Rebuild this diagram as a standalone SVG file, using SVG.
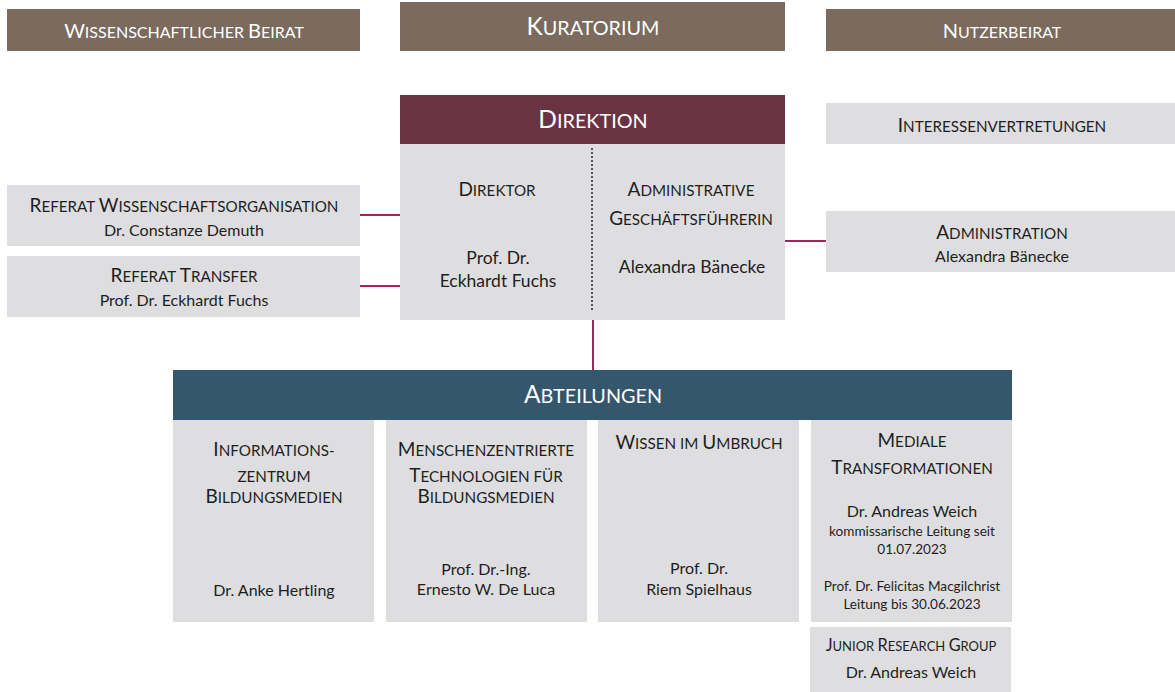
<svg xmlns="http://www.w3.org/2000/svg" width="1175" height="692" viewBox="0 0 1175 692">
<style>
text{font-family:Lato,"Open Sans","Liberation Sans",sans-serif;text-anchor:middle;fill:#1e1e1e;font-size:16px}
.w{fill:#ffffff}
.b{font-size:19px}
.s{font-size:15.2px;text-transform:uppercase}
.hb{font-size:20px}
.hs{font-size:16px;text-transform:uppercase}
.B{font-size:24.5px}
.S{font-size:19.8px;text-transform:uppercase}
.jb{font-size:16.3px}
.js{font-size:13px;text-transform:uppercase}
.sm{font-size:13.6px}
.lg{font-size:17.5px}
.brown{fill:#7b6a5e}
.grey{fill:#dedee0}
.con{stroke:#a3245a;stroke-width:2;fill:none}
</style>
<g id="connectors">
<line class="con" x1="360" y1="215" x2="400" y2="215"/>
<line class="con" x1="360" y1="286" x2="400" y2="286"/>
<line class="con" x1="785" y1="241" x2="826" y2="241"/>
<line class="con" x1="593" y1="320" x2="593" y2="370"/>
</g>
<g id="wiss-beirat">
<rect class="brown" x="7" y="9" width="353" height="42"/>
<text class="w" x="184" y="38"><tspan class="hb">W</tspan><tspan class="hs">issenschaftlicher </tspan><tspan class="hb">B</tspan><tspan class="hs">eirat</tspan></text>
</g>
<g id="kuratorium">
<rect class="brown" x="400" y="2" width="385" height="49"/>
<text class="w" x="593" y="35"><tspan class="B">K</tspan><tspan class="S">uratorium</tspan></text>
</g>
<g id="nutzerbeirat">
<rect class="brown" x="826" y="9" width="349" height="42"/>
<text class="w" x="1002" y="38"><tspan class="hb">N</tspan><tspan class="hs">utzerbeirat</tspan></text>
</g>
<g id="direktion">
<rect x="400" y="95" width="385" height="49" fill="#6a3343"/>
<rect class="grey" x="400" y="144" width="385" height="176"/>
<line x1="592" y1="148" x2="592" y2="312" stroke="#555" stroke-width="2" stroke-dasharray="2 2"/>
<text class="w" x="593" y="128"><tspan class="B">D</tspan><tspan class="S">irektion</tspan></text>
<text x="497" y="196"><tspan class="b">D</tspan><tspan class="s">irektor</tspan></text>
<text class="lg" x="498" y="264">Prof. Dr.</text>
<text class="lg" x="498" y="287">Eckhardt Fuchs</text>
<text x="691" y="196"><tspan class="b">A</tspan><tspan class="s">dministrative</tspan></text>
<text x="691" y="225"><tspan class="b">G</tspan><tspan class="s">eschäftsführerin</tspan></text>
<text class="lg" x="692" y="273">Alexandra Bänecke</text>
</g>
<g id="interessenvertretungen">
<rect class="grey" x="826" y="103" width="349" height="41"/>
<text x="1002" y="132"><tspan class="b">I</tspan><tspan class="s">nteressenvertretungen</tspan></text>
</g>
<g id="administration">
<rect class="grey" x="826" y="211" width="349" height="61"/>
<text x="1002" y="239"><tspan class="b">A</tspan><tspan class="s">dministration</tspan></text>
<text x="1002" y="262">Alexandra Bänecke</text>
</g>
<g id="referat-wissenschaftsorganisation">
<rect class="grey" x="7" y="185" width="353" height="61"/>
<text x="184" y="212"><tspan class="b">R</tspan><tspan class="s">eferat </tspan><tspan class="b">W</tspan><tspan class="s">issenschaftsorganisation</tspan></text>
<text x="184" y="236">Dr. Constanze Demuth</text>
</g>
<g id="referat-transfer">
<rect class="grey" x="7" y="256" width="353" height="61"/>
<text x="184" y="282"><tspan class="b">R</tspan><tspan class="s">eferat </tspan><tspan class="b">T</tspan><tspan class="s">ransfer</tspan></text>
<text x="184" y="306">Prof. Dr. Eckhardt Fuchs</text>
</g>
<g id="abteilungen">
<rect x="173" y="370" width="839" height="50" fill="#34576d"/>
<text class="w" x="593" y="403"><tspan class="B">A</tspan><tspan class="S">bteilungen</tspan></text>
</g>
<g id="informationszentrum">
<rect class="grey" x="173" y="420" width="201" height="202"/>
<text x="274" y="456"><tspan class="b">I</tspan><tspan class="s">nformations-</tspan></text>
<text x="274" y="482"><tspan class="s">zentrum</tspan></text>
<text x="274" y="503"><tspan class="b">B</tspan><tspan class="s">ildungsmedien</tspan></text>
<text x="274" y="596">Dr. Anke Hertling</text>
</g>
<g id="menschenzentrierte">
<rect class="grey" x="386" y="420" width="201" height="202"/>
<text x="486" y="456"><tspan class="b">M</tspan><tspan class="s">enschenzentrierte</tspan></text>
<text x="486" y="482"><tspan class="b">T</tspan><tspan class="s">echnologien für</tspan></text>
<text x="486" y="503"><tspan class="b">B</tspan><tspan class="s">ildungsmedien</tspan></text>
<text x="486" y="575">Prof. Dr.-Ing.</text>
<text x="486" y="595">Ernesto W. De Luca</text>
</g>
<g id="wissen-im-umbruch">
<rect class="grey" x="598" y="420" width="201" height="202"/>
<text x="699" y="449"><tspan class="b">W</tspan><tspan class="s">issen im </tspan><tspan class="b">U</tspan><tspan class="s">mbruch</tspan></text>
<text x="699" y="574">Prof. Dr.</text>
<text x="699" y="595">Riem Spielhaus</text>
</g>
<g id="mediale-transformationen">
<rect class="grey" x="811" y="420" width="201" height="202"/>
<text x="912" y="447"><tspan class="b">M</tspan><tspan class="s">ediale</tspan></text>
<text x="912" y="474"><tspan class="b">T</tspan><tspan class="s">ransformationen</tspan></text>
<text x="912" y="517">Dr. Andreas Weich</text>
<text class="sm" x="912" y="536">kommissarische Leitung seit</text>
<text class="sm" x="912" y="554">01.07.2023</text>
<text class="sm" x="912" y="591">Prof. Dr. Felicitas Macgilchrist</text>
<text class="sm" x="912" y="609">Leitung bis 30.06.2023</text>
</g>
<g id="junior-research-group">
<rect class="grey" x="810" y="627" width="201" height="65"/>
<text x="911" y="651"><tspan class="jb">J</tspan><tspan class="js">unior </tspan><tspan class="jb">R</tspan><tspan class="js">esearch </tspan><tspan class="jb">G</tspan><tspan class="js">roup</tspan></text>
<text x="911" y="678">Dr. Andreas Weich</text>
</g>
</svg>
